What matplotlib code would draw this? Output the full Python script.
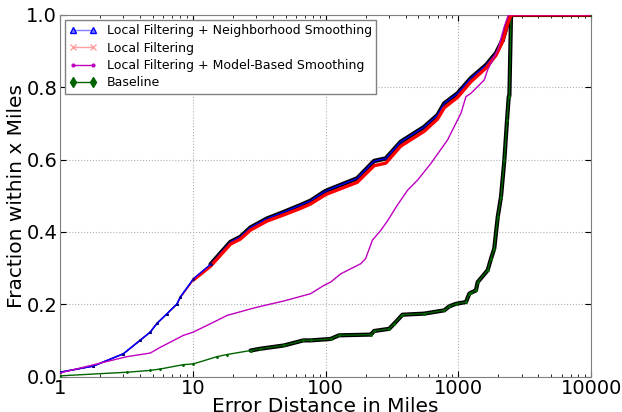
import matplotlib
matplotlib.use("Agg")
import matplotlib.pyplot as plt

# error distance (miles) / fraction values
nbr_x = [1, 1.78, 3.0, 4.0, 4.78, 5.37, 6.4, 7.6, 8.05, 10.1, 13.6, 19.2, 22.8, 27.2, 36.3,
         48.5, 64.8, 77, 97, 103, 173, 232, 284, 368, 552, 697, 782, 986, 1242, 1614,
         1918, 2155, 2350, 2490, 10000]
nbr_y = [0.012, 0.029, 0.063, 0.10, 0.123, 0.147, 0.174, 0.201, 0.22, 0.27, 0.31, 0.372, 0.386,
         0.412, 0.437, 0.455, 0.474, 0.486, 0.51, 0.515, 0.548, 0.596, 0.603, 0.649, 0.69,
         0.723, 0.755, 0.783, 0.825, 0.861, 0.894, 0.931, 0.977, 1.0, 1.0]

lf_x = [1, 1.78, 3.0, 4.0, 4.78, 5.37, 6.4, 7.6, 8.05, 10.1, 13.6, 19.2, 22.8, 27.2, 36.3,
        48.5, 64.8, 77, 97, 103, 173, 232, 284, 368, 552, 697, 782, 986, 1242, 1614,
        1918, 2155, 2350, 2490, 10000]
lf_y = [0.012, 0.029, 0.063, 0.10, 0.123, 0.147, 0.174, 0.2, 0.218, 0.267, 0.305, 0.366, 0.38,
        0.405, 0.43, 0.447, 0.465, 0.477, 0.50, 0.505, 0.537, 0.583, 0.59, 0.637, 0.678,
        0.712, 0.743, 0.772, 0.815, 0.853, 0.888, 0.927, 0.975, 1.0, 1.0]

mbs_x = [1, 3.18, 4.78, 5.7, 8.5, 10.1, 15.2, 18.1, 27.2, 32.3, 48.5, 77, 97, 109, 130, 184,
         200, 225, 260, 292, 347, 414, 492, 620, 828, 1045, 1140, 1242, 1566, 1660, 1977,
         2218, 2380, 10000]
mbs_y = [0.01, 0.055, 0.065, 0.081, 0.114, 0.123, 0.155, 0.169, 0.187, 0.194, 0.209, 0.229,
         0.252, 0.261, 0.284, 0.312, 0.326, 0.377, 0.404, 0.43, 0.474, 0.515, 0.543, 0.589,
         0.654, 0.728, 0.774, 0.783, 0.82, 0.848, 0.903, 0.968, 1.0, 1.0]

base_x = [1, 3.2, 4.78, 5.7, 8.5, 10.1, 15.2, 18.1, 27.2, 32.3, 48.5, 68, 77, 109, 126, 219,
          232, 301, 328, 379, 552, 782, 853, 955, 1140, 1207, 1242, 1355, 1396, 1660, 1760,
          1862, 1977, 2093, 2218, 2323, 2393, 2420, 2490, 10000]
base_y = [0.002, 0.012, 0.017, 0.021, 0.033, 0.035, 0.055, 0.061, 0.072, 0.077, 0.086, 0.10,
          0.10, 0.104, 0.114, 0.116, 0.126, 0.132, 0.146, 0.171, 0.174, 0.183, 0.194, 0.201,
          0.206, 0.229, 0.232, 0.238, 0.261, 0.294, 0.326, 0.354, 0.441, 0.497, 0.598, 0.709,
          0.774, 0.775, 1.0, 1.0]

fig = plt.figure(figsize=(6.22, 4.12), dpi=100)
ax = fig.add_axes([0.0965, 0.086, 0.854, 0.878])

# heavy black outlines (dense black-edged markers in the original)
ax.plot(nbr_x[10:], nbr_y[10:], color="black", lw=3.2, solid_capstyle="round", zorder=2)
ax.plot(base_x[8:], base_y[8:], color="black", lw=3.0, solid_capstyle="round", zorder=2)

ax.plot(nbr_x, nbr_y, color="blue", lw=1, marker="^", ms=1.2, mec="navy",
        label="Local Filtering + Neighborhood Smoothing", zorder=3)
ax.plot(lf_x, lf_y, color="red", lw=1, label="Local Filtering", zorder=2.5)
ax.plot(lf_x[9:], lf_y[9:], color="red", lw=2.4, solid_capstyle="round", zorder=4)
# sparse low end: blue stays on top
ax.plot(nbr_x[:11], nbr_y[:11], color="blue", lw=1, marker="^", ms=1.2, mec="navy", zorder=4.5)
ax.plot(mbs_x, mbs_y, color="m", lw=1, label="Local Filtering + Model-Based Smoothing", zorder=5)
ax.plot(base_x, base_y, color="darkgreen", lw=1, marker="d", ms=1.2,
        label="Baseline", zorder=3)

ax.set_xscale("log")
ax.set_xlim(1, 10000)
ax.set_ylim(0, 1.0)
ax.set_yticks([0.0, 0.2, 0.4, 0.6, 0.8, 1.0])
ax.set_xticks([1, 10, 100, 1000, 10000])
ax.set_xticklabels(["1", "10", "100", "1000", "10000"])
ax.set_yticklabels(["0.0", "0.2", "0.4", "0.6", "0.8", "1.0"])
ax.tick_params(which="both", direction="in", top=True, right=True, labelsize=14, pad=2)
ax.tick_params(which="major", length=4)
ax.tick_params(which="minor", length=2)
ax.grid(True, which="major", linestyle=":", color="#b0b0b0", lw=0.8)
for s in ax.spines.values():
    s.set_color("#808080")

ax.set_xlabel("Error Distance in Miles", fontsize=14.5, labelpad=-1)
ax.set_ylabel("Fraction within x Miles", fontsize=14.5, labelpad=0)

leg = ax.legend(loc="upper left", fontsize=9, numpoints=2, fancybox=False,
                borderaxespad=0.4, handlelength=2.2, framealpha=1, borderpad=0.35,
                labelspacing=0.35)
leg.get_frame().set_edgecolor("#808080")
h = leg.legend_handles
h[0].set_markersize(5)
h[0].set_markeredgecolor("blue")
h[0].set_color("#7f7fff")
h[1].set_linewidth(1)
h[1].set_color("#ff9f9f")
h[1].set_marker("x")
h[1].set_markersize(5)
h[2].set_marker(".")
h[2].set_markersize(4)
h[3].set_markersize(5)

fig.savefig("out.png", dpi=100)
